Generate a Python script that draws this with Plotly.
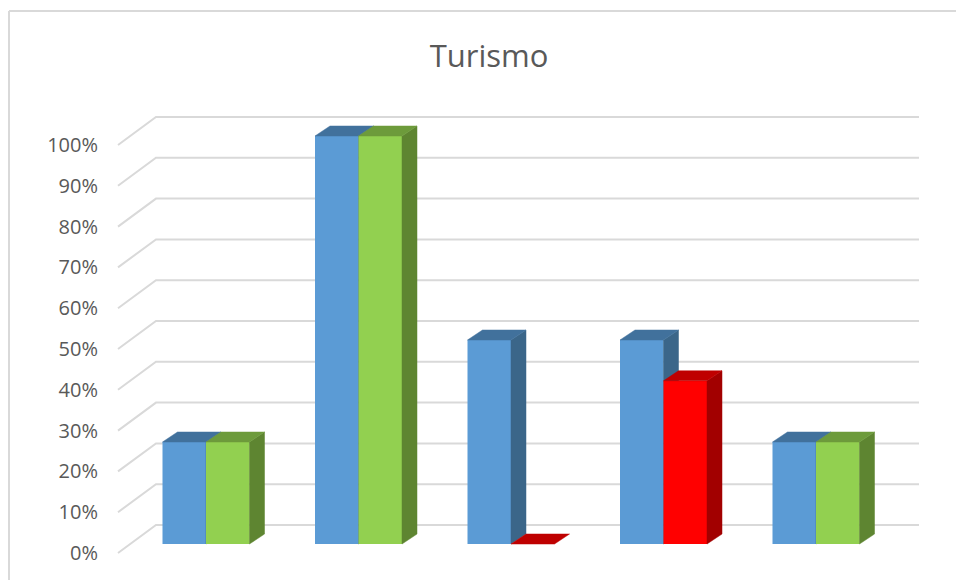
import plotly.graph_objects as go

# ---------------- data ----------------
categories = ["1", "2", "3", "4", "5"]
serie1 = [25, 100, 50, 50, 25]
serie2 = [25, 100, 0, 40, 25]
serie2_state = ["ok", "ok", "bad", "bad", "ok"]
tick_values = [0, 10, 20, 30, 40, 50, 60, 70, 80, 90, 100]
tick_labels = [f"{v}%" for v in tick_values]
title_text = "Turismo"

# ---------------- styles ----------------
W, H = 956, 580
X0, U = 206.0, 152.5      # px of category 0 centre, px per category
Y0, V = 544.0, 4.08       # px of 0% (front plane), px per percent
BAR_W = 43.5 / U
DX, DY = 15.0 / U, 10.0 / V
WALL_FRONT_X = (118 - X0) / U
WALL_BACK_X = (156 - X0) / U
WALL_RIGHT_X = (919 - X0) / U
WALL_DEPTH_Y = 28.0 / V

COLORS = {
    "blue": ("#5B9BD5", "#41719C", "#3B6689"),
    "ok": ("#92D050", "#6D9B3B", "#5E8531"),
    "bad": ("#FF0000", "#BF0000", "#A20000"),
}
GRID = "#D9D9D9"
TEXT = "#595959"

x_range = [(0 - X0) / U, (W - X0) / U]
y_front_range = [(Y0 - H) / V, Y0 / V]
y_label_range = [(Y0 + 9 - H) / V, (Y0 + 9) / V]

fig = go.Figure()

# gridlines on the walls (base subplot, label axis units)
gx, gy = [], []
for v in tick_values:
    gx += [WALL_FRONT_X, WALL_BACK_X, WALL_RIGHT_X, None]
    gy += [v, v + WALL_DEPTH_Y, v + WALL_DEPTH_Y, None]
fig.add_trace(go.Scatter(x=gx, y=gy, mode="lines", xaxis="x", yaxis="y",
                         line=dict(color=GRID, width=2), hoverinfo="skip",
                         showlegend=False))


def add_series(values, offset, color_keys, yaxis):
    fronts = [COLORS[k][0] for k in color_keys]
    idx = list(range(len(values)))
    fig.add_trace(go.Bar(x=idx, y=values, offset=offset, width=BAR_W,
                         marker=dict(color=fronts, line=dict(width=0)),
                         xaxis="x", yaxis=yaxis, hoverinfo="skip",
                         showlegend=False))
    for i, v in enumerate(values):
        _, top_c, side_c = COLORS[color_keys[i]]
        x0 = i + offset
        x1 = x0 + BAR_W
        # side face
        if v > 0:
            fig.add_trace(go.Scatter(
                x=[x1, x1, x1 + DX, x1 + DX, x1], y=[0, v, v + DY, DY, 0],
                fill="toself", fillcolor=side_c, mode="lines",
                line=dict(width=0.5, color=side_c), xaxis="x", yaxis=yaxis,
                hoverinfo="skip", showlegend=False))
        # top face
        fig.add_trace(go.Scatter(
            x=[x0, x1, x1 + DX, x0 + DX, x0], y=[v, v, v + DY, v + DY, v],
            fill="toself", fillcolor=top_c, mode="lines",
            line=dict(width=0.5, color=top_c), xaxis="x", yaxis=yaxis,
            hoverinfo="skip", showlegend=False))


add_series(serie1, -BAR_W, ["blue"] * len(serie1), "y2")
add_series(serie2, 0.0, serie2_state, "y3")

fig.update_layout(
    width=W, height=H,
    margin=dict(l=0, r=0, t=0, b=0, autoexpand=False),
    paper_bgcolor="white", plot_bgcolor="rgba(0,0,0,0)",
    barmode="overlay",
    font=dict(family="Open Sans", color=TEXT),
    title=dict(text=title_text, x=489 / W, xanchor="center",
               y=1 - 56 / H, yanchor="middle",
               font=dict(family="Open Sans", size=31, color=TEXT)),
    xaxis=dict(range=x_range, visible=False, fixedrange=True),
    yaxis=dict(range=y_label_range, anchor="free", position=98 / W,
               tickvals=tick_values, ticktext=tick_labels, ticks="",
               showgrid=False, zeroline=False, showline=False,
               tickfont=dict(family="Open Sans", size=20, color=TEXT),
               fixedrange=True),
    yaxis2=dict(range=y_front_range, overlaying="y", visible=False,
                fixedrange=True),
    yaxis3=dict(range=y_front_range, overlaying="y", visible=False,
                fixedrange=True),
    shapes=[
        dict(type="line", xref="paper", yref="paper",
             x0=9 / W, x1=9 / W, y0=0, y1=1 - 11 / H,
             line=dict(color=GRID, width=2)),
        dict(type="line", xref="paper", yref="paper",
             x0=9 / W, x1=1, y0=1 - 11 / H, y1=1 - 11 / H,
             line=dict(color=GRID, width=2)),
    ],
)

fig.write_html(
    "out.html",
    config={"displayModeBar": False},
    post_script="document.body.style.margin='0';document.body.style.overflow='hidden';",
)
